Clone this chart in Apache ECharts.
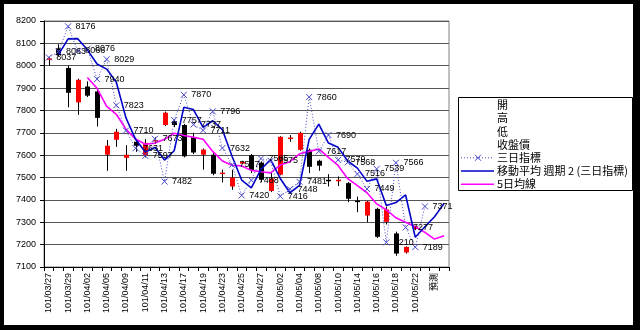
<!DOCTYPE html>
<html>
<head>
<meta charset="utf-8">
<script src="https://cdn.jsdelivr.net/npm/echarts@6/dist/echarts.min.js"></script>
<style>
  html, body { margin: 0; padding: 0; background: #000; }
  #chart { width: 640px; height: 330px; }
</style>
</head>
<body>
<div id="chart"></div>
<script>
// Trading days (ROC calendar), plus the forecast slot
const categories = ['101/03/27','101/03/28','101/03/29','101/03/30','101/04/02','101/04/03','101/04/05','101/04/06',
  '101/04/09','101/04/10','101/04/11','101/04/12','101/04/13','101/04/16','101/04/17','101/04/18','101/04/19','101/04/20',
  '101/04/23','101/04/24','101/04/25','101/04/26','101/04/27','101/04/30','101/05/02','101/05/03','101/05/04','101/05/07',
  '101/05/08','101/05/09','101/05/10','101/05/11','101/05/14','101/05/15','101/05/16','101/05/17','101/05/18','101/05/21',
  '101/05/22','101/05/23','預測',''];

// Daily index: open / close / low / high
const openP  = [8030,8078,7990,7836,7907,7885,7602,7669,7588,7660,7600,7665,7735,7752,7735,7680,7602,7602,7520,7460,
  7562,7600,7567,7440,7513,7676,7624,7624,7575,7490,7487,7475,7397,7330,7360,7302,7250,7165,7270,null,null,null];
const closeP = [8033,8048,7879,7937,7866,7767,7642,7705,7602,7642,7655,7668,7790,7735,7595,7612,7625,7517,7522,7500,
  7570,7533,7490,7495,7682,7679,7700,7548,7553,7487,7490,7405,7390,7392,7235,7357,7160,7190,7282,null,null,null];
const lowP   = [8000,8042,7814,7780,7860,7728,7530,7637,7530,7615,7590,7650,7730,7725,7590,7605,7535,7510,7478,7445,
  7560,7520,7480,7435,7510,7660,7620,7520,7530,7460,7462,7390,7345,7300,7230,7290,7150,7160,7265,null,null,null];
const highP  = [8037,8096,8000,7942,7930,7890,7668,7718,7645,7670,7672,7680,7795,7760,7740,7700,7630,7610,7535,7535,
  7575,7605,7572,7520,7685,7690,7705,7630,7580,7515,7505,7480,7415,7395,7365,7370,7258,7192,7285,null,null,null];

// 三日指標
const threeDay = [8037,8063,8176,8066,8076,7940,8029,7823,7710,7631,7597,7673,7482,7757,7870,7737,7711,7796,7632,7557,
  7420,7488,7585,7575,7416,7448,7481,7860,7617,7690,7579,7568,7516,7449,7539,7210,7566,7277,7189,7371,null,null];

// 移動平均 週期 2 (三日指標)
const maTwo = [null,8050,8120,8121,8071,8008,7985,7926,7767,7671,7614,7635,7578,7620,7814,7804,7724,7754,7714,7595,
  7489,7454,7537,7580,7496,7432,7465,7671,7739,7654,7635,7574,7542,7483,7494,7375,7388,7422,7233,7280,7325,7385];

// 5日均線
const maFive = [null,null,null,null,7947,7899,7818,7783,7716,7672,7649,7654,7671,7698,7688,7680,7671,7617,7574,7555,
  7552,7532,7526,7521,7556,7571,7606,7617,7628,7590,7554,7495,7464,7432,7382,7356,7320,7300,7280,7255,7225,7240];

const yTicks = { min: 7100, max: 8200, step: 100 };

const legendNames = ['開','高','低','收盤價','三日指標','移動平均 週期 2 (三日指標)','5日均線'];

const UP = '#ff0000', DOWN = '#000000';
const BLUE = '#0000c8', MAGENTA = '#ff00ff', MARK = '#4848c8';
const NUM_FONT = '"Liberation Sans", Arial, sans-serif';
const CJK_FONT = '"Noto Sans CJK TC", "Noto Sans CJK SC", sans-serif';

const candleData = categories.map((c, i) =>
  openP[i] == null ? [i, null, null, null, null] : [i, openP[i], closeP[i], lowP[i], highP[i]]);

function renderCandle(params, api) {
  const o = api.value(1), c = api.value(2), l = api.value(3), h = api.value(4);
  if (o == null || isNaN(o)) return;
  const idx = api.value(0);
  const pO = api.coord([idx, o]), pC = api.coord([idx, c]);
  const pL = api.coord([idx, l]), pH = api.coord([idx, h]);
  const x = Math.round(pO[0]) + 0.5;
  const w = 5;
  const top = Math.min(pO[1], pC[1]);
  const hgt = Math.max(1.5, Math.abs(pO[1] - pC[1]));
  return {
    type: 'group',
    children: [
      { type: 'line', shape: { x1: x, y1: pH[1], x2: x, y2: pL[1] }, style: { stroke: '#000', lineWidth: 1 } },
      { type: 'rect', shape: { x: x - w / 2, y: top, width: w, height: hgt },
        style: { fill: c >= o ? UP : DOWN } }
    ]
  };
}

// Legend drawn as a framed box on the right
const legX = 458, legY = 97, legW = 174, legH = 93, rowH = 13.2, firstRow = 105;
const legendGraphics = [
  { type: 'rect', shape: { x: legX + 0.5, y: legY + 0.5, width: legW, height: legH },
    style: { fill: '#fff', stroke: '#000', lineWidth: 1 }, z: 10 }
];
legendNames.forEach((name, k) => {
  const cy = firstRow + k * rowH;
  legendGraphics.push({ type: 'text', x: 497, y: cy, z: 11,
    style: { text: name, fill: '#000', font: '11px ' + CJK_FONT, verticalAlign: 'middle', align: 'left' } });
  if (k === 4) {
    legendGraphics.push({ type: 'line', z: 11, shape: { x1: 461, y1: cy, x2: 494, y2: cy },
      style: { stroke: MARK, lineWidth: 1, lineDash: [1, 2] } });
    legendGraphics.push({ type: 'line', z: 11, shape: { x1: 475, y1: cy - 3, x2: 481, y2: cy + 3 },
      style: { stroke: MARK, lineWidth: 1 } });
    legendGraphics.push({ type: 'line', z: 11, shape: { x1: 481, y1: cy - 3, x2: 475, y2: cy + 3 },
      style: { stroke: MARK, lineWidth: 1 } });
  } else if (k === 5) {
    legendGraphics.push({ type: 'line', z: 11, shape: { x1: 461, y1: cy, x2: 494, y2: cy },
      style: { stroke: BLUE, lineWidth: 1.6 } });
  } else if (k === 6) {
    legendGraphics.push({ type: 'line', z: 11, shape: { x1: 461, y1: cy, x2: 494, y2: cy },
      style: { stroke: MAGENTA, lineWidth: 1.6 } });
  }
});

const chart = echarts.init(document.getElementById('chart'), null, { renderer: 'canvas' });
chart.setOption({
  backgroundColor: '#000',
  animation: false,
  graphic: [
    { type: 'rect', z: -10, shape: { x: 4, y: 4, width: 629, height: 321 }, style: { fill: '#fff' } },
    ...legendGraphics
  ],
  grid: { left: 44, right: 191, top: 21, bottom: 63, show: true, borderColor: '#808080', borderWidth: 1,
          backgroundColor: '#fff' },
  xAxis: {
    type: 'category', data: categories, boundaryGap: true,
    axisLine: { lineStyle: { color: '#000', width: 1 } },
    axisTick: { show: true, interval: 0, length: 4, inside: false, alignWithLabel: false, lineStyle: { color: '#000' } },
    axisLabel: { interval: 1, rotate: 90, margin: 6, fontSize: 9, color: '#000',
                 fontFamily: NUM_FONT + ', ' + CJK_FONT },
    splitLine: { show: false }
  },
  yAxis: {
    type: 'value', min: yTicks.min, max: yTicks.max, interval: yTicks.step,
    axisLine: { show: true, lineStyle: { color: '#000', width: 1 } },
    axisTick: { show: true, length: 4, lineStyle: { color: '#000' } },
    axisLabel: { fontSize: 9, color: '#000', margin: 8, fontFamily: NUM_FONT, formatter: v => String(v) },
    splitLine: { show: true, lineStyle: { color: '#555', width: 1 } }
  },
  series: [
    {
      name: '收盤價', type: 'custom', renderItem: renderCandle, data: candleData,
      encode: { x: 0, y: [1, 2, 3, 4] }, z: 2, silent: true
    },
    {
      name: '5日均線', type: 'line', data: maFive, symbol: 'none', z: 3,
      lineStyle: { color: MAGENTA, width: 1.6 }, connectNulls: false
    },
    {
      name: '移動平均 週期 2 (三日指標)', type: 'line', data: maTwo, symbol: 'none', z: 4,
      lineStyle: { color: BLUE, width: 1.6 }
    },
    {
      name: '三日指標', type: 'line', data: threeDay, z: 5,
      symbol: 'path://M0,0L10,10M10,0L0,10', symbolSize: 6,
      itemStyle: { color: 'rgba(0,0,0,0)', borderColor: MARK, borderWidth: 1 },
      lineStyle: { color: MARK, width: 1, type: [1, 2] },
      label: { show: true, position: 'right', distance: 4, fontSize: 9, color: '#000', fontFamily: NUM_FONT,
               formatter: p => p.value }
    }
  ]
});
</script>
</body>
</html>
